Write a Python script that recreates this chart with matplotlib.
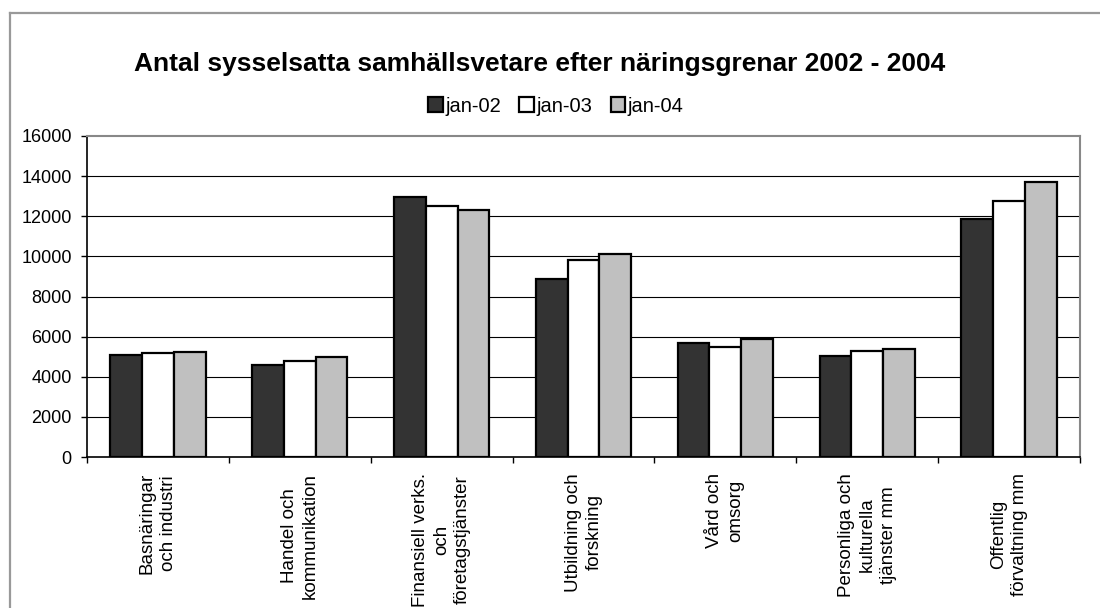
import numpy as np
import matplotlib
matplotlib.use("Agg")
import matplotlib.pyplot as plt
from matplotlib.lines import Line2D

plt.rcParams['font.family'] = ['Liberation Sans', 'DejaVu Sans']

categories = ["Basnäringar\noch industri",
              "Handel och\nkommunikation",
              "Finansiell verks.\noch\nföretagstjänster",
              "Utbildning och\nforskning",
              "Vård och\nomsorg",
              "Personliga och\nkulturella\ntjänster mm",
              "Offentlig\nförvaltning mm"]
series_names = ["jan-02", "jan-03", "jan-04"]
jan02 = [5100, 4600, 12950, 8850, 5700, 5020, 11870]
jan03 = [5180, 4800, 12520, 9840, 5480, 5300, 12780]
jan04 = [5220, 4990, 12320, 10140, 5900, 5390, 13730]
y_ticks = [0, 2000, 4000, 6000, 8000, 10000, 12000, 14000, 16000]

colors = ['#333333', '#ffffff', '#c0c0c0']

W, H = 1100, 608
fig = plt.figure(figsize=(W / 100, H / 100), dpi=100)

# chart frame (grey border, continues off the picture)
fig.add_artist(Line2D([10 / W, 10 / W], [0, 1 - 13 / H], color='#999999', lw=1.6))
fig.add_artist(Line2D([10 / W, 1], [1 - 13 / H, 1 - 13 / H], color='#999999', lw=1.6))

left, right, top, bottom = 87, 1080, 136, 457
ax = fig.add_axes([left / W, 1 - bottom / H, (right - left) / W, (bottom - top) / H])

x = np.arange(len(categories))
bw = 0.224
for i, vals in enumerate([jan02, jan03, jan04]):
    ax.bar(x + (i - 1) * bw, vals, bw, color=colors[i], edgecolor='black',
           linewidth=1.6, label=series_names[i], zorder=3)

ax.set_xlim(-0.5, len(categories) - 0.5)
ax.set_ylim(0, 16000)
ax.set_yticks(y_ticks)
ax.set_yticklabels([str(v) for v in y_ticks], fontsize=13)
for v in y_ticks[1:-1]:
    ax.axhline(v, color='black', lw=0.8, zorder=1)

ax.set_xticks(np.arange(-0.5, len(categories), 1.0))
ax.set_xticklabels([])
ax.tick_params(axis='both', direction='out', length=4, width=1, color='black', pad=7)
for i, lab in enumerate(categories):
    ax.text(i, -0.05, lab, transform=ax.get_xaxis_transform(), rotation=90,
            ha='center', va='top', multialignment='center', fontsize=13.5,
            linespacing=1.3)

ax.spines['left'].set_color('black')
ax.spines['bottom'].set_color('black')
ax.spines['left'].set_linewidth(1.2)
ax.spines['bottom'].set_linewidth(1.2)
ax.spines['top'].set_color('#888888')
ax.spines['right'].set_color('#888888')
ax.spines['top'].set_linewidth(1.5)
ax.spines['right'].set_linewidth(1.5)

fig.text(540 / W, 1 - 64 / H, "Antal sysselsatta samhällsvetare efter näringsgrenar 2002 - 2004",
         ha='center', va='center', fontsize=19, fontweight='bold')

fig.legend(loc='center', bbox_to_anchor=(556 / W, 1 - 106 / H), ncol=3, frameon=False,
           fontsize=14.5, handlelength=0.7, handleheight=0.7, handletextpad=0.15,
           columnspacing=0.9, borderpad=0)

fig.savefig("out.png", dpi=100)
